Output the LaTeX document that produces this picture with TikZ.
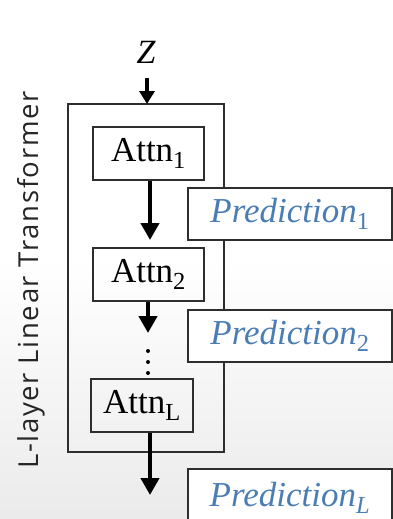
\documentclass[tikz,border=0pt]{standalone}
\usepackage{fontspec}
\setmainfont{Liberation Serif}
\newfontfamily\labelfont[LetterSpace=6]{Open Sans}
\usetikzlibrary{arrows.meta}
\definecolor{predblue}{HTML}{4A7DB4}
\definecolor{frame}{HTML}{2E2E2E}
\newcommand{\predtext}[1]{\textit{Prediction}\textsubscript{#1}}
\tikzset{
  layerbox/.style={draw=frame, line width=1.5pt, minimum height=53pt, inner sep=0pt, font=\fontsize{35}{38}\selectfont},
  predbox/.style={draw=frame, line width=1.5pt, fill=white, minimum width=204pt, minimum height=52pt, inner sep=0pt, text=predblue, font=\fontsize{35}{38}\selectfont},
  flow/.style={line width=4.5pt, -{Triangle[length=17pt,width=18pt]}},
  inflow/.style={line width=4pt, -{Triangle[length=13pt,width=15pt]}},
  dot/.style={circle, fill=black, inner sep=0pt, minimum size=4pt}
}
\begin{document}
\begin{tikzpicture}[x=1pt,y=-1pt]
  \clip (0,0) rectangle (393,519);
  \shade[top color=white, bottom color=black!8, middle color=white] (0,0) rectangle (393,519);

  % outer block holding the layers
  \draw[frame, line width=1.5pt] (68,104) rectangle (224,452);

  % input
  \node[font=\fontsize{34}{36}\selectfont\itshape] (z) at (146,52) {Z};
  \coordinate (zstart) at (147,78);
  \coordinate (zend) at (147,104);
  \draw[inflow] (zstart) -- (zend);

  % attention layers
  \node[layerbox, minimum width=111pt] (a1) at (148.5,153.5) {Attn\textsubscript{1}};
  \node[layerbox, minimum width=111pt] (a2) at (148.5,274.5) {Attn\textsubscript{2}};
  \node[layerbox, minimum width=102pt] (aL) at (142,405.5) {Attn\textsubscript{L}};

  % predictions
  \node[predbox] (p1) at (290,214) {\predtext{1}};
  \node[predbox] (p2) at (290,336) {\predtext{2}};
  \node[predbox, minimum height=58pt] (pL) at (290,498) {\predtext{\textit{L}}};

  % flow between layers
  \coordinate (c1) at (150,240);
  \draw[flow] (a1.south -| c1) -- (c1);
  \coordinate (c2) at (148,333);
  \draw[flow] (a2.south -| c2) -- (c2);
  \node[dot] (d1) at (148,351) {};
  \node[dot] (d2) at (148,362) {};
  \node[dot] (d3) at (148,373) {};
  \coordinate (c3) at (150,495);
  \draw[flow] (aL.south -| c3) -- (c3);

  % side label
  \node[rotate=90, font=\labelfont\fontsize{27.5}{30}\selectfont, text=black!85] (lbl) at (31,280) {L-layer Linear Transformer};
\end{tikzpicture}
\end{document}
